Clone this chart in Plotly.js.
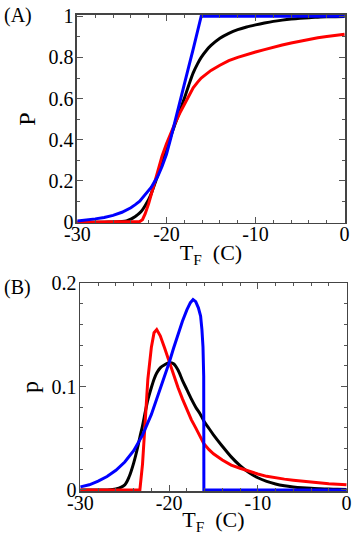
<!DOCTYPE html>
<html>
<head>
<meta charset="utf-8">
<script src="https://cdn.plot.ly/plotly-3.0.1.min.js"></script>
<style>
  html, body { margin: 0; padding: 0; background: #fff; }
  #chart { width: 354px; height: 535px; }
</style>
</head>
<body>
<div id="chart"></div>
<script>
// freezing temperature grid (C)
const tGrid = [-30, -29, -28, -27, -26, -25, -24.5, -24, -23.5, -23.3, -23, -22.7, -22.4, -22,
  -21.7, -21.4, -21, -20.5, -20, -19.5, -19, -18.5, -18, -17.5, -17, -16.5, -16.1, -15.5,
  -15, -14, -13, -12, -11, -10, -9, -8, -7, -6, -5, -4, -3, -2, -1, 0];

// (A) cumulative P
const cumBlack = [0, 0, 0, 0, 0.001, 0.003, 0.006, 0.015, 0.028, 0.034, 0.045, 0.06, 0.08, 0.11,
  0.14, 0.175, 0.225, 0.29, 0.355, 0.42, 0.48, 0.54, 0.60, 0.665, 0.725, 0.77, 0.80, 0.835,
  0.858, 0.893, 0.917, 0.935, 0.948, 0.958, 0.967, 0.975, 0.981, 0.986, 0.99, 0.993, 0.995, 0.997, 0.998, 0.999];
const cumRed = [0, 0, 0, 0, 0, 0, 0, 0, 0, 0, 0.003, 0.012, 0.04, 0.09,
  0.135, 0.18, 0.245, 0.32, 0.38, 0.435, 0.485, 0.53, 0.57, 0.615, 0.652, 0.68, 0.70, 0.72,
  0.737, 0.762, 0.784, 0.80, 0.814, 0.826, 0.838, 0.85, 0.86, 0.87, 0.879, 0.887, 0.895, 0.901, 0.907, 0.912];
const cumBlue = [0.006, 0.01, 0.016, 0.023, 0.033, 0.048, 0.058, 0.07, 0.085, 0.092, 0.102, 0.118, 0.134, 0.15,
  0.17, 0.192, 0.22, 0.27, 0.33, 0.41, 0.50, 0.585, 0.67, 0.755, 0.84, 0.925, 1, 1,
  1, 1, 1, 1, 1, 1, 1, 1, 1, 1, 1, 1, 1, 1, 1, 1];

// (B) density p
const denBlack = [0, 0, 0, 0, 0.001, 0.005, 0.013, 0.026, 0.043, 0.051, 0.062, 0.075, 0.087, 0.099,
  0.107, 0.113, 0.118, 0.121, 0.123, 0.122, 0.116, 0.106, 0.097, 0.088, 0.08, 0.0735, 0.067, 0.0594,
  0.0533, 0.0423, 0.032, 0.0235, 0.0168, 0.0118, 0.0083, 0.0058, 0.0041, 0.003, 0.0022, 0.0016, 0.0012, 0.0009, 0.0007, 0.0005];
const denRed = [0, 0, 0, 0, 0, 0, 0, 0, 0, 0, 0.025, 0.062, 0.107, 0.138,
  0.152, 0.155, 0.149, 0.137, 0.124, 0.111, 0.099, 0.088, 0.077, 0.068, 0.06, 0.052, 0.045, 0.039,
  0.035, 0.029, 0.024, 0.021, 0.018, 0.0155, 0.0132, 0.0115, 0.0105, 0.0095, 0.0085, 0.0076, 0.0068, 0.0061, 0.0055, 0.005];
const blueX = [-30, -29, -28, -27, -26, -25, -24, -23, -22, -21, -20, -19.5, -19, -18.5, -18,
  -17.6, -17.3, -17, -16.7, -16.45, -16.3, -16.18, -16.1, -16.08, -16.08, -10, 0];
const denBlue = [0.003, 0.005, 0.0085, 0.013, 0.019, 0.027, 0.038, 0.053, 0.073, 0.097, 0.123, 0.137, 0.151, 0.163, 0.174,
  0.181, 0.184, 0.182, 0.176, 0.168, 0.155, 0.138, 0.11, 0.06, 0, 0, 0];

const xTickVals = [-30, -20, -10, 0];
const xTickText = ['-30', '-20', '-10', '0'];

const font = 'Liberation Serif';
const line = (c, shape) => ({ color: c, width: 3, shape: shape || 'linear', smoothing: 0.8 });

const traces = [
  { x: tGrid, y: cumBlack, line: line('#000', 'spline'), xaxis: 'x', yaxis: 'y' },
  { x: tGrid, y: cumRed, line: line('#ff0000'), xaxis: 'x', yaxis: 'y' },
  { x: tGrid, y: cumBlue, line: line('#0000ff'), xaxis: 'x', yaxis: 'y' },
  { x: tGrid, y: denBlack, line: line('#000', 'spline'), xaxis: 'x2', yaxis: 'y2' },
  { x: tGrid, y: denRed, line: line('#ff0000'), xaxis: 'x2', yaxis: 'y2' },
  { x: blueX, y: denBlue, line: line('#0000ff'), xaxis: 'x2', yaxis: 'y2' }
].map(t => Object.assign({ type: 'scatter', mode: 'lines', hoverinfo: 'skip' }, t));

const axisBase = {
  showline: true, linecolor: '#444', linewidth: 1.5, mirror: 'ticks',
  ticks: 'inside', ticklen: 6, tickcolor: '#555', tickwidth: 1,
  showgrid: false, zeroline: false,
  tickfont: { family: font, size: 20, color: '#000' }
};
const xAxis = (anchor, dom) => Object.assign({}, axisBase, {
  anchor: anchor, domain: dom, range: [-30.05, 0.05],
  tickmode: 'array', tickvals: xTickVals, ticktext: xTickText,
  ticklabelstandoff: -7,
  minor: { ticks: 'inside', ticklen: 3, dtick: 2, tick0: 0, tickcolor: '#555' },
  title: { text: 'T<sub>F</sub>  (C)', font: { family: font, size: 22, color: '#000' }, standoff: 0 }
});

const layout = {
  width: 354, height: 535,
  margin: { l: 0, r: 0, t: 0, b: 0 },
  paper_bgcolor: '#fff', plot_bgcolor: '#fff',
  showlegend: false,
  xaxis: xAxis('y', [0.2175, 0.9746]),
  yaxis: Object.assign({}, axisBase, {
    anchor: 'x', domain: [0.5832, 0.9720], range: [-0.004, 1.006], dtick: 0.2, tick0: 0,
    ticklabelstandoff: -2,
    minor: { ticks: 'inside', ticklen: 3, dtick: 0.1, tick0: 0, tickcolor: '#555' },
    title: { text: 'P', font: { family: font, size: 24, color: '#000' }, standoff: 6 }
  }),
  xaxis2: xAxis('y2', [0.226, 0.980]),
  yaxis2: Object.assign({}, axisBase, {
    anchor: 'x2', domain: [0.0822, 0.4710], range: [-0.001, 0.2], dtick: 0.1, tick0: 0,
    ticklabelstandoff: -2,
    minor: { ticks: 'inside', ticklen: 3, dtick: 0.02, tick0: 0, tickcolor: '#555' },
    title: { text: 'p', font: { family: font, size: 24, color: '#000' }, standoff: 6 }
  }),
  annotations: [
    { text: '(A)', x: 0.005, y: 0.997, xref: 'paper', yref: 'paper', xanchor: 'left', yanchor: 'top',
      showarrow: false, font: { family: font, size: 20, color: '#000' } },
    { text: '(B)', x: 0.005, y: 0.487, xref: 'paper', yref: 'paper', xanchor: 'left', yanchor: 'top',
      showarrow: false, font: { family: font, size: 20, color: '#000' } }
  ]
};

Plotly.newPlot('chart', traces, layout, { staticPlot: true, displayModeBar: false });
</script>
</body>
</html>
